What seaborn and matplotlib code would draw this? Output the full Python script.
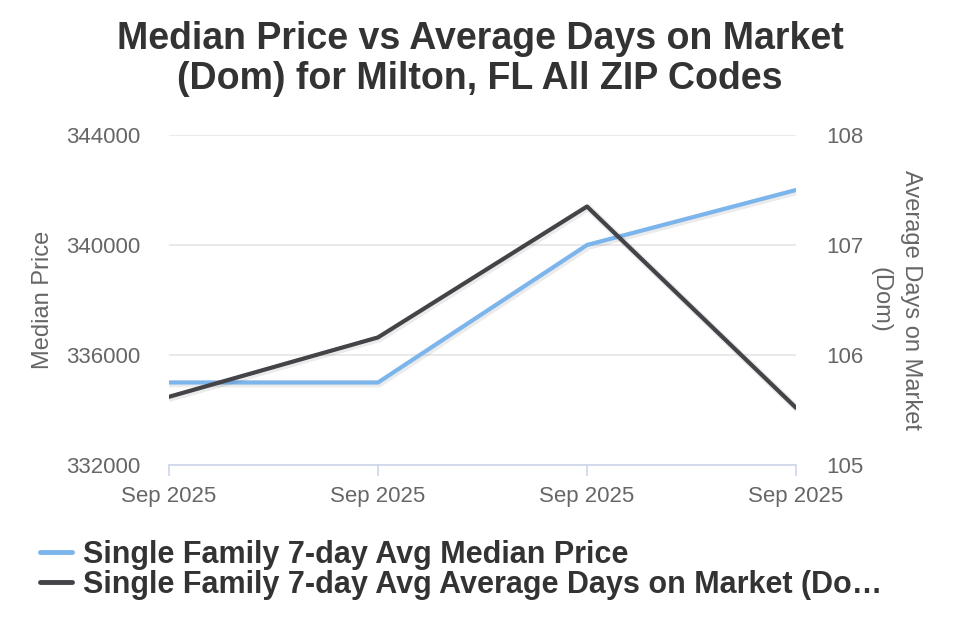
import matplotlib
matplotlib.use("Agg")
import matplotlib.pyplot as plt
import matplotlib.patheffects as pe
from matplotlib.lines import Line2D
import seaborn as sns
import pandas as pd

x_labels = ["Sep 2025", "Sep 2025", "Sep 2025", "Sep 2025"]
median_price = [335000, 335000, 340000, 342000]
avg_dom = [105.62, 106.16, 107.35, 105.52]
series_names = ["Single Family 7-day Avg Median Price",
                "Single Family 7-day Avg Average Days on Market (Do\u2026"]

sns.set_theme(style="white")
plt.rcParams['font.family'] = ['Liberation Sans', 'DejaVu Sans']

df = pd.DataFrame({"idx": range(len(x_labels)), "price": median_price, "dom": avg_dom})

fig = plt.figure(figsize=(9.6, 6.4), dpi=100)
ax = fig.add_axes([169/960, 1-465/640, (796-169)/960, (465-135)/640])
ax2 = ax.twinx()

shadow = [pe.SimpleLineShadow(offset=(1, -1), shadow_color='black', alpha=0.08, linewidth=5), pe.Normal()]
sns.lineplot(data=df, x="idx", y="price", ax=ax, color="#7cb5ec", linewidth=3, clip_on=True,
             path_effects=shadow, zorder=3)
sns.lineplot(data=df, x="idx", y="dom", ax=ax2, color="#434348", linewidth=3, clip_on=True,
             path_effects=shadow, zorder=3)

ax.set_xlim(0, 3)
ax.set_ylim(332000, 344000)
ax.set_yticks([332000, 336000, 340000, 344000])
ax.set_yticklabels(["332000", "336000", "340000", "344000"])
ax2.set_ylim(105, 108)
ax2.set_yticks([105, 106, 107, 108])
ax2.set_yticklabels(["105", "106", "107", "108"])

ax.set_xticks(range(len(x_labels)))
ax.set_xticklabels(x_labels)

ax.grid(axis='y', color='#e6e6e6', linewidth=1.2)
ax.grid(axis='x', visible=False)
ax.set_axisbelow(True)
for a in (ax, ax2):
    for s in ("top", "left", "right", "bottom"):
        a.spines[s].set_visible(False)
ax.spines["bottom"].set_visible(True)
ax.spines["bottom"].set_color("#ccd6eb")
ax.spines["bottom"].set_linewidth(1.2)

ax.tick_params(axis='x', length=8, width=1.2, color="#ccd6eb", labelsize=16, labelcolor="#666666", pad=7, bottom=True)
ax.tick_params(axis='y', length=0, labelsize=16, labelcolor="#666666", pad=20.5)
ax2.tick_params(axis='y', length=0, labelsize=16, labelcolor="#666666", pad=22)

ax.set_xlabel("")
ax.set_ylabel("Median Price", fontsize=17, color="#666666", labelpad=9)
ax2.set_ylabel("Average Days on Market\n(Dom)", fontsize=17, color="#666666", rotation=270,
               labelpad=42, linespacing=1.5)

fig.suptitle("Median Price vs Average Days on Market\n(Dom) for Milton, FL All ZIP Codes",
             fontsize=27, fontweight='bold', color="#333333", y=0.967, linespacing=1.15)

handles = [Line2D([0], [0], color="#7cb5ec", linewidth=3.5),
           Line2D([0], [0], color="#434348", linewidth=3.5)]
leg = fig.legend(handles, series_names, loc="upper left", bbox_to_anchor=(0.0417, 0.156),
                 frameon=False, handlelength=1.05, handletextpad=0.36, labelspacing=0.0,
                 borderpad=0, borderaxespad=0,
                 prop={'weight': 'bold', 'size': 22})
for t in leg.get_texts():
    t.set_color("#333333")

fig.savefig("out.png", dpi=100)
